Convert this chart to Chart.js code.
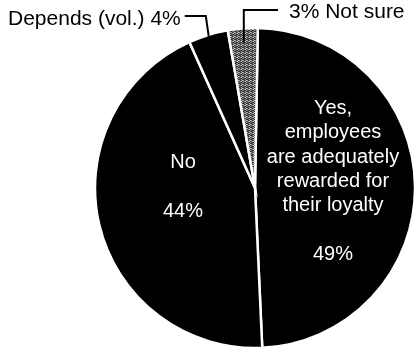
<!DOCTYPE html>
<html>
<head>
<meta charset="utf-8">
<script src="https://cdn.jsdelivr.net/npm/chart.js@4/dist/chart.umd.min.js"></script>
<style>
  html, body { margin: 0; padding: 0; background: #fff; }
  #wrap { width: 417px; height: 348px; position: relative; }
</style>
</head>
<body>
<div id="wrap"><canvas id="c" width="417" height="348"></canvas></div>
<script>
// Survey answers, clockwise from 12 o'clock
const categories = ['Yes, employees are adequately rewarded for their loyalty', 'No', 'Depends (vol.)', 'Not sure'];
const shares = [49, 44, 4, 3];

// Text drawn inside the two big slices
const yesLines = ['Yes,', 'employees', 'are adequately', 'rewarded for', 'their loyalty'];
const yesValue = '49%';
const noLines = ['No'];
const noValue = '44%';

// Callout texts for the two thin slices
const dependsCallout = 'Depends (vol.) 4%';
const notSureCallout = '3% Not sure';

const FONT = '"Liberation Sans", Arial, Helvetica, sans-serif';

// Halftone grey fill for the "Not sure" slice
function halftone() {
  const p = document.createElement('canvas');
  p.width = 4; p.height = 4;
  const g = p.getContext('2d');
  g.fillStyle = '#9a9a9a';
  g.fillRect(0, 0, 4, 4);
  g.fillStyle = '#2e2e2e';
  [[0,0],[2,1],[1,2],[3,3],[2,3],[0,2]].forEach(([x, y]) => g.fillRect(x, y, 1, 1));
  g.fillStyle = '#5e5e5e';
  [[1,0],[3,1],[0,3],[3,2]].forEach(([x, y]) => g.fillRect(x, y, 1, 1));
  g.fillStyle = '#d0d0d0';
  [[2,0],[1,1]].forEach(([x, y]) => g.fillRect(x, y, 1, 1));
  return g.createPattern(p, 'repeat');
}

const ctx = document.getElementById('c').getContext('2d');

const annotate = {
  id: 'annotate',
  afterDraw(chart) {
    const g = chart.ctx;
    const arcs = chart.getDatasetMeta(0).data;
    const cx = arcs[0].x, cy = arcs[0].y, R = arcs[0].outerRadius;
    const mid = a => (a.startAngle + a.endAngle) / 2;

    g.save();
    // labels inside the big slices
    g.fillStyle = '#fff';
    g.textAlign = 'center';
    g.textBaseline = 'alphabetic';
    g.font = '20px ' + FONT;
    yesLines.forEach((t, i) => g.fillText(t, cx + 78, cy - 74 + i * 24.3));
    g.fillText(yesValue, cx + 78, cy + 72);
    noLines.forEach((t, i) => g.fillText(t, cx - 72, cy - 20 + i * 24));
    g.fillText(noValue, cx - 72, cy + 29);

    // callouts
    g.fillStyle = '#000';
    g.strokeStyle = '#000';
    g.lineWidth = 2;
    g.font = '21px ' + FONT;
    g.textAlign = 'left';

    // Depends (vol.)
    g.fillText(dependsCallout, 8, 25);
    const dw = g.measureText(dependsCallout).width;
    const ad = mid(arcs[2]);
    const pdx = cx + Math.cos(ad) * (R - 2), pdy = cy + Math.sin(ad) * (R - 2);
    g.beginPath();
    g.moveTo(8 + dw + 4, 16);
    g.lineTo(pdx - 3, 16);
    g.lineTo(pdx, pdy);
    g.stroke();

    // Not sure
    g.fillText(notSureCallout, 289, 18);
    const an = mid(arcs[3]);
    const pnx = cx + Math.cos(an) * (R - 14), pny = cy + Math.sin(an) * (R - 14);
    g.beginPath();
    g.moveTo(278, 10);
    g.lineTo(pnx, 10);
    g.lineTo(pnx, pny);
    g.stroke();
    g.restore();
  }
};

new Chart(ctx, {
  type: 'pie',
  data: {
    labels: categories,
    datasets: [{
      data: shares,
      backgroundColor: ['#000', '#000', '#000', halftone()],
      borderColor: '#fff',
      borderWidth: 2.5,
      borderJoinStyle: 'miter'
    }]
  },
  options: {
    responsive: false,
    animation: false,
    rotation: 1,
    radius: 160,
    layout: { padding: { left: 93, right: 0, top: 28, bottom: 0 } },
    plugins: {
      legend: { display: false },
      tooltip: { enabled: false }
    }
  },
  plugins: [annotate]
});
</script>
</body>
</html>
